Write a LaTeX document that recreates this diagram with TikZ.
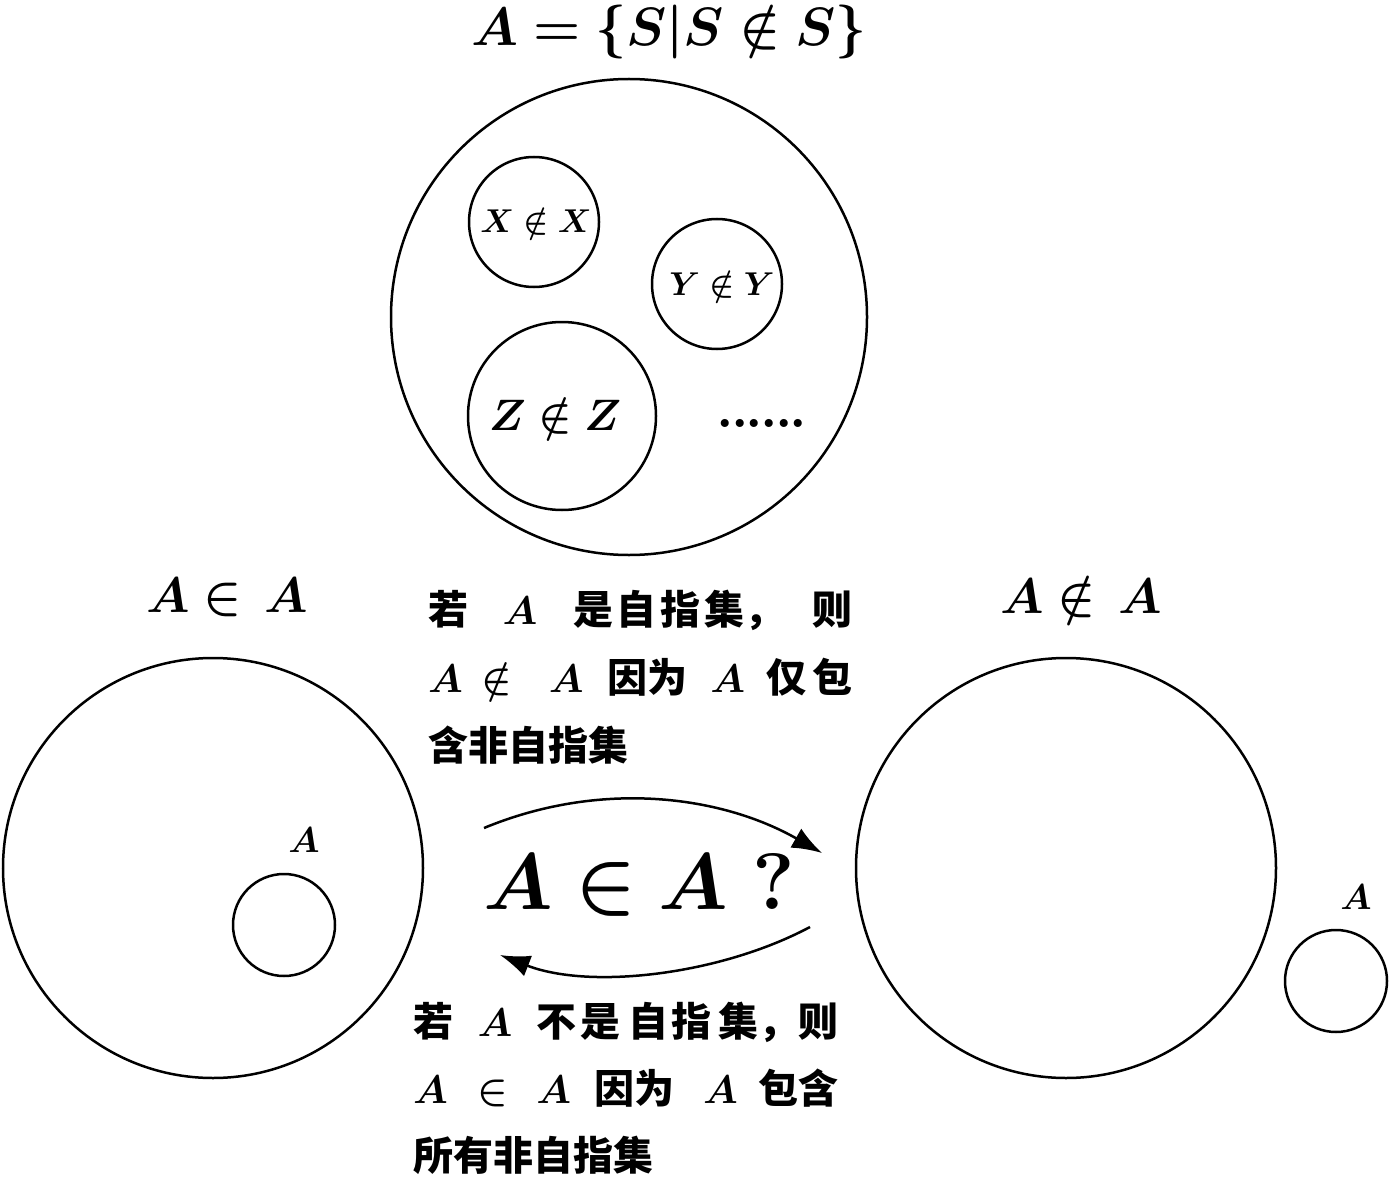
\RequirePackage{fix-cm}
\documentclass[tikz,border=0pt]{standalone}
\usepackage{fontspec}
\usepackage{amsmath,bm}
\usetikzlibrary{arrows.meta}
\newfontfamily\cjk{Noto Sans CJK SC}
\newcommand\gp[1]{\hskip 0pt plus #1fil\relax}
\newcommand\fsz[1]{\fontsize{#1}{#1}\selectfont}
\begin{document}
\begin{tikzpicture}[x=1pt,y=-1pt,
  ring/.style={circle,draw,line width=2.5pt,inner sep=0pt,minimum size=#1},
  lbl/.style={inner sep=0pt,font=\fsz{#1}},
  txt/.style={inner sep=0pt,anchor=west,font=\cjk\bfseries\fsz{40}},
  arr/.style={line width=2.5pt,-{Latex[length=30pt,width=22pt]}}]
\useasboundingbox (0,0) rectangle (1392,1177);
% top
\node[lbl=54] (title) at (669,32) {$\bm{A=\{S|S\notin S\}}$};
\node[ring=476pt] (big) at (629,317) {};
\node[ring=130pt] (cx) at (534,222) {};
\node[ring=130pt] (cy) at (717,284) {};
\node[ring=188pt] (cz) at (562,416) {};
\node[lbl=33] (tx) at (536,222) {$\bm{X\notin X}$};
\node[lbl=33] (ty) at (722,285) {$\bm{Y\notin Y}$};
\node[lbl=44] (tz) at (555,416) {$\bm{Z\notin Z}$};
\node[lbl=56] (dots) at (762,423) {\bfseries .\kern-3pt.\kern-3pt.\kern-3pt.\kern-3pt.\kern-3pt.};
% left
\node[lbl=50] (lin) at (227,597) {$\bm{A\in\, A}$};
\node[ring=420pt] (lc) at (213,868) {};
\node[ring=102pt] (ls) at (284,925) {};
\node[lbl=36] (la) at (304,840) {$\bm{A}$};
% right
\node[lbl=50] (rin) at (1081,597) {$\bm{A\notin\, A}$};
\node[ring=420pt] (rc) at (1066,868) {};
\node[ring=102pt] (rs) at (1336,981) {};
\node[lbl=36] (ra) at (1356,897) {$\bm{A}$};
% center
\node[lbl=80] (q) at (639,885) {$\bm{A\in A}$\ \textbf{?}};
\coordinate (u1) at (484,828);
\coordinate (u2) at (822,853);
\coordinate (d1) at (810,927);
\coordinate (d2) at (500,955);
\draw[arr] (u1) .. controls (600,780) and (720,795) .. (u2);
\draw[arr] (d1) .. controls (720,975) and (590,990) .. (d2);
% upper text
\node[txt] (t1) at (428,610) {\hbox to 424pt{若\gp{35}$\bm{A}$\gp{37}是\gp{3}自\gp{4}指\gp{4}集，\gp{28}则}};
\node[txt] (t2) at (428,677) {\hbox to 424pt{$\bm{A}$\gp{19}$\bm{\notin}$\gp{38}$\bm{A}$\gp{25}因为\gp{23}$\bm{A}$\gp{22}仅\gp{6}包}};
\node[txt] (t3) at (428,745) {含非自指集};
% lower text
\node[txt] (b1) at (413,1022) {\hbox to 425pt{若\gp{25}$\bm{A}$\gp{25}不\gp{4}是\gp{8}自\gp{3}指\gp{7}集，\gp{0.1}则}};
\node[txt] (b2) at (413,1088) {\hbox to 425pt{$\bm{A}$\gp{29}$\bm{\in}$\gp{28}$\bm{A}$\gp{23}因为\gp{28}$\bm{A}$\gp{20}包\gp{0.1}含}};
\node[txt] (b3) at (413,1155) {所有非自指集};
\end{tikzpicture}
\end{document}
